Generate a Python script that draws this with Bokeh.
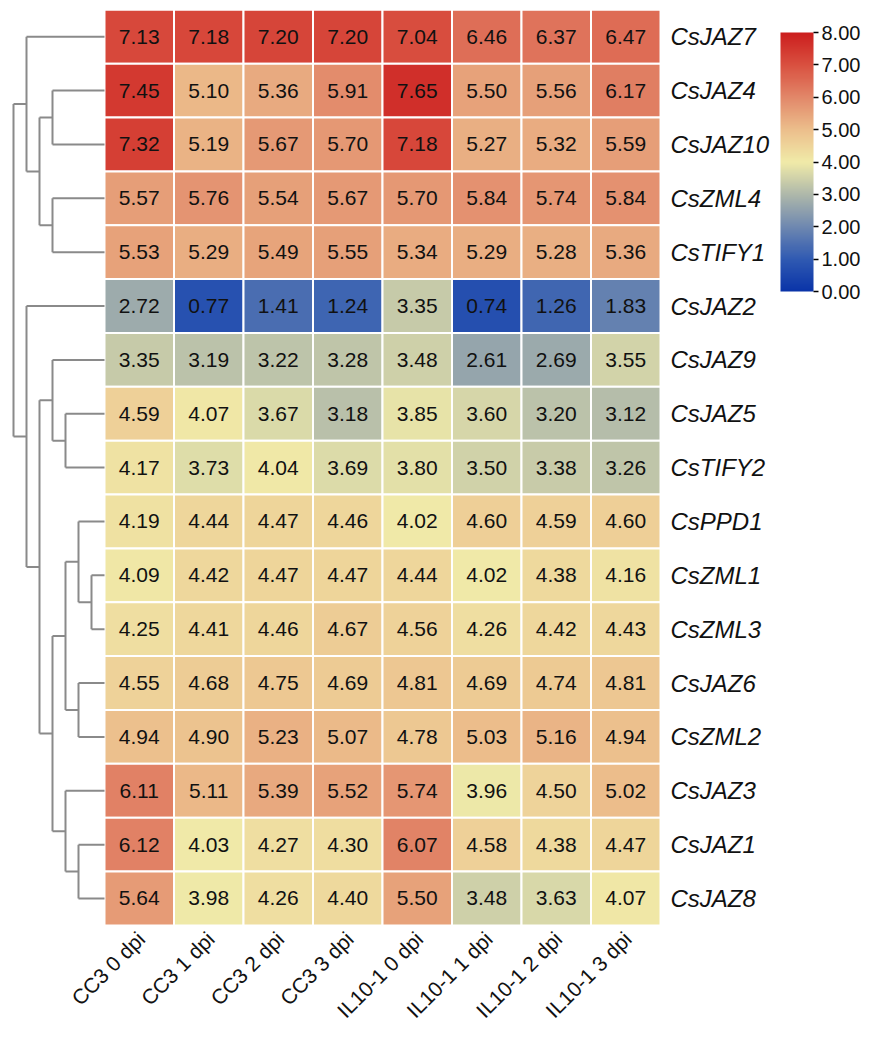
import math
from bokeh.plotting import figure
from bokeh.models import ColumnDataSource, LinearColorMapper, ColorBar, FixedTicker, PrintfTickFormatter, Range1d
from bokeh.transform import transform
from bokeh.core.properties import value
from bokeh.embed import file_html
from bokeh.resources import INLINE

# ---------------- data ----------------
genes = ["CsJAZ7", "CsJAZ4", "CsJAZ10", "CsZML4", "CsTIFY1", "CsJAZ2", "CsJAZ9",
         "CsJAZ5", "CsTIFY2", "CsPPD1", "CsZML1", "CsZML3", "CsJAZ6", "CsZML2",
         "CsJAZ3", "CsJAZ1", "CsJAZ8"]
samples = ["CC3 0 dpi", "CC3 1 dpi", "CC3 2 dpi", "CC3 3 dpi",
           "IL10-1 0 dpi", "IL10-1 1 dpi", "IL10-1 2 dpi", "IL10-1 3 dpi"]

cc3_0dpi = [7.13, 7.45, 7.32, 5.57, 5.53, 2.72, 3.35, 4.59, 4.17, 4.19, 4.09, 4.25, 4.55, 4.94, 6.11, 6.12, 5.64]
cc3_1dpi = [7.18, 5.10, 5.19, 5.76, 5.29, 0.77, 3.19, 4.07, 3.73, 4.44, 4.42, 4.41, 4.68, 4.90, 5.11, 4.03, 3.98]
cc3_2dpi = [7.20, 5.36, 5.67, 5.54, 5.49, 1.41, 3.22, 3.67, 4.04, 4.47, 4.47, 4.46, 4.75, 5.23, 5.39, 4.27, 4.26]
cc3_3dpi = [7.20, 5.91, 5.70, 5.67, 5.55, 1.24, 3.28, 3.18, 3.69, 4.46, 4.47, 4.67, 4.69, 5.07, 5.52, 4.30, 4.40]
il10_0dpi = [7.04, 7.65, 7.18, 5.70, 5.34, 3.35, 3.48, 3.85, 3.80, 4.02, 4.44, 4.56, 4.81, 4.78, 5.74, 6.07, 5.50]
il10_1dpi = [6.46, 5.50, 5.27, 5.84, 5.29, 0.74, 2.61, 3.60, 3.50, 4.60, 4.02, 4.26, 4.69, 5.03, 3.96, 4.58, 3.48]
il10_2dpi = [6.37, 5.56, 5.32, 5.74, 5.28, 1.26, 2.69, 3.20, 3.38, 4.59, 4.38, 4.42, 4.74, 5.16, 4.50, 4.38, 3.63]
il10_3dpi = [6.47, 6.17, 5.59, 5.84, 5.36, 1.83, 3.55, 3.12, 3.26, 4.60, 4.16, 4.43, 4.81, 4.94, 5.02, 4.47, 4.07]
columns = [cc3_0dpi, cc3_1dpi, cc3_2dpi, cc3_3dpi, il10_0dpi, il10_1dpi, il10_2dpi, il10_3dpi]

# row dendrogram: (merge level, left, right)
row_tree = (7,
            (6, "CsJAZ7", (5, (4, "CsJAZ4", "CsJAZ10"), (4, "CsZML4", "CsTIFY1"))),
            (6, "CsJAZ2",
             (5, (4, "CsJAZ9", (3, "CsJAZ5", "CsTIFY2")),
              (4, (3, (2, "CsPPD1", (1, "CsZML1", "CsZML3")), (2, "CsJAZ6", "CsZML2")),
               (3, "CsJAZ3", (2, "CsJAZ1", "CsJAZ8"))))))

color_ticks = [0, 1, 2, 3, 4, 5, 6, 7, 8]

# ---------------- layout ----------------
W, H = 861, 1021
PX_X = 69.5      # px per column
PX_Y = 53.86     # px per row
HM_LEFT = 104.0  # px from canvas left to heatmap
HM_TOP = 9.3     # px from canvas top to heatmap
x0 = -HM_LEFT / PX_X
x1 = x0 + W / PX_X
y0 = -HM_TOP / PX_Y
y1 = y0 + H / PX_Y
FONT = "Liberation Sans"

p = figure(width=W, height=H, x_range=Range1d(x0, x1), y_range=Range1d(y1, y0),
           x_axis_location=None, y_axis_location=None, output_backend="svg",
           toolbar_location=None, min_border=0)
p.grid.visible = False
p.outline_line_color = None
p.background_fill_color = "white"
p.border_fill_color = "white"

# palette blue -> grey -> pale yellow -> orange -> red
stops = [(10, 52, 168), (48, 90, 178), (112, 137, 176), (174, 184, 170), (240, 234, 168),
         (236, 190, 140), (226, 136, 106), (217, 80, 64), (204, 30, 30)]

def lerp(c1, c2, t):
    return tuple(int(round(a + (b - a) * t)) for a, b in zip(c1, c2))

palette = []
N = 256
for i in range(N):
    s = i / (N - 1) * (len(stops) - 1)
    k = min(int(s), len(stops) - 2)
    palette.append("#%02x%02x%02x" % lerp(stops[k], stops[k + 1], s - k))

mapper = LinearColorMapper(palette=palette, low=0, high=8)

xs, ys, vals, labels = [], [], [], []
for j, col in enumerate(columns):
    for i, v in enumerate(col):
        xs.append(j + 0.5)
        ys.append(i + 0.5)
        vals.append(v)
        labels.append("%.2f" % v)
src = ColumnDataSource(dict(x=xs, y=ys, v=vals, lab=labels))

p.rect(x="x", y="y", width=1, height=1, source=src, fill_color=transform("v", mapper),
       line_color="white", line_width=2)
p.text(x="x", y="y", text="lab", source=src, text_align="center", text_baseline="middle",
       text_font=value(FONT), text_font_size="21px", text_color="#111111")

# gene labels
gsrc = ColumnDataSource(dict(x=[len(samples) + 10 / PX_X] * len(genes),
                             y=[i + 0.5 for i in range(len(genes))], t=genes))
p.text(x="x", y="y", text="t", source=gsrc, text_align="left", text_baseline="middle",
       text_font=value(FONT), text_font_style="italic", text_font_size="24px", text_color="#111111")

# sample labels
ssrc = ColumnDataSource(dict(x=[j + 0.5 + 2 / PX_X for j in range(len(samples))],
                             y=[len(genes) + 10 / PX_Y] * len(samples), t=samples))
p.text(x="x", y="y", text="t", source=ssrc, angle=math.pi / 4, text_align="right",
       text_baseline="middle", text_font=value(FONT), text_font_size="21px", text_color="#111111")

# dendrogram
row_of = {g: i for i, g in enumerate(genes)}
STEP = 13.0 / PX_X
sx0, sy0, sx1, sy1 = [], [], [], []

def walk(node):
    if isinstance(node, str):
        return 0.0, row_of[node] + 0.5
    level, a, b = node
    xa, ya = walk(a)
    xb, yb = walk(b)
    xn = -level * STEP
    for (xc, yc) in ((xa, ya), (xb, yb)):
        sx0.append(xn); sy0.append(yc); sx1.append(xc); sy1.append(yc)
    sx0.append(xn); sy0.append(ya); sx1.append(xn); sy1.append(yb)
    return xn, (ya + yb) / 2

walk(row_tree)
p.segment(x0=sx0, y0=sy0, x1=sx1, y1=sy1, line_color="#8a8a8a", line_width=2)

# color bar
cb = ColorBar(color_mapper=mapper, width=33, height=259, padding=0,
              location=(780, H - 291), ticker=FixedTicker(ticks=color_ticks),
              formatter=PrintfTickFormatter(format="%.2f"),
              major_tick_in=0, major_tick_out=5, major_tick_line_color="black",
              major_tick_line_width=1.5, label_standoff=3,
              major_label_text_font=FONT, major_label_text_font_size="20px",
              major_label_text_color="#111111",
              background_fill_alpha=0, border_line_color=None, bar_line_color=None)
p.add_layout(cb, "center")

open("out.html", "w").write(file_html(p, INLINE))
